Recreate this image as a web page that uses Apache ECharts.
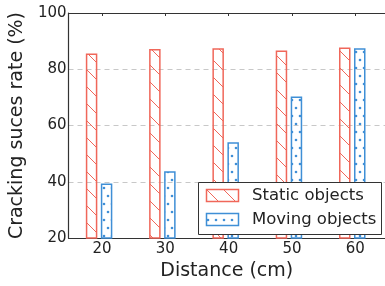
<!DOCTYPE html>
<html>
<head>
<meta charset="utf-8">
<script src="https://cdn.jsdelivr.net/npm/echarts@6/dist/echarts.min.js"></script>
<style>
  html, body { margin: 0; padding: 0; background: #fff; }
  #chart { width: 385px; height: 286px; }
</style>
</head>
<body>
<div id="chart"></div>
<script>
// data
var distances = [20, 30, 40, 50, 60];
var staticRate = [85.3, 86.9, 87.2, 86.4, 87.5];
var movingRate = [39.1, 43.5, 53.8, 70.1, 87.2];
var yTicks = [20, 40, 60, 80, 100];
var seriesNames = ['Static objects', 'Moving objects'];

var RED = '#f0675a';
var BLUE = '#3f8fd6';
var FONT = 'DejaVu Sans';
var barW = 10; // px, without stroke

// hatch tile  "\\"
function hatchPattern(color) {
  var s = 17;
  var c = document.createElement('canvas');
  c.width = s; c.height = s;
  var g = c.getContext('2d');
  g.strokeStyle = color;
  g.lineWidth = 1;
  g.beginPath();
  g.moveTo(-2, -2); g.lineTo(s + 2, s + 2);
  g.moveTo(-2, s - 2); g.lineTo(2, s + 2);
  g.moveTo(s - 2, -2); g.lineTo(s + 2, 2);
  g.stroke();
  return { image: c, repeat: 'repeat' };
}

// dot tile
function dotPattern(color) {
  var c = document.createElement('canvas');
  c.width = 16; c.height = 16;
  var g = c.getContext('2d');
  g.fillStyle = color;
  [[4, 4], [12, 4], [8, 12], [0, 12], [16, 12]].forEach(function (p) {
    g.beginPath(); g.arc(p[0], p[1], 1.3, 0, Math.PI * 2); g.fill();
  });
  return { image: c, repeat: 'repeat' };
}

var hatch = hatchPattern(RED);
var dots = dotPattern(BLUE);

function barRenderer(offset, fill, stroke) {
  return function (params, api) {
    var base = api.coord([api.value(0), 20]);
    var top = api.coord([api.value(0), api.value(1)]);
    return {
      type: 'rect',
      shape: { x: base[0] + offset, y: top[1], width: barW, height: base[1] - top[1] },
      style: { fill: fill, stroke: stroke, lineWidth: 1.5 }
    };
  };
}

var chart = echarts.init(document.getElementById('chart'));

var option = {
  animation: false,
  grid: { left: 62, top: 13, width: 327.5, height: 230 },
  xAxis: [{
    type: 'value',
    min: 14.7,
    max: 64.7,
    name: 'Distance (cm)',
    nameLocation: 'middle',
    nameGap: 22,
    nameTextStyle: { fontFamily: FONT, fontSize: 19, color: '#222' },
    axisLine: { show: true, lineStyle: { color: '#333', width: 1.2 } },
    axisTick: { show: false },
    axisLabel: { customValues: distances, fontFamily: FONT, fontSize: 15, color: '#222', margin: 4 },
    splitLine: { show: false }
  }, {
    type: 'value',
    position: 'top',
    min: 14.7,
    max: 64.7,
    axisLine: { show: true, lineStyle: { color: '#333', width: 1.2 } },
    axisTick: { show: true, inside: true, length: 3, customValues: distances, lineStyle: { color: '#333' } },
    axisLabel: { show: false },
    splitLine: { show: false }
  }],
  yAxis: {
    type: 'value',
    min: 20,
    max: 100,
    interval: 20,
    name: 'Cracking suces rate (%)',
    nameLocation: 'middle',
    nameGap: 24,
    nameTextStyle: { fontFamily: FONT, fontSize: 19, color: '#222' },
    axisLine: { show: true, lineStyle: { color: '#333', width: 1.2 } },
    axisTick: { show: false },
    axisLabel: { customValues: yTicks, fontFamily: FONT, fontSize: 15, color: '#222', margin: 2 },
    splitLine: { show: true, lineStyle: { color: '#c8c8c8', type: [5, 4], width: 1 } }
  },
  series: [{
    name: seriesNames[0],
    type: 'custom',
    renderItem: barRenderer(-15.5, hatch, RED),
    data: distances.map(function (d, i) { return [d, staticRate[i]]; }),
    z: 3
  }, {
    name: seriesNames[1],
    type: 'custom',
    renderItem: barRenderer(-0.5, dots, BLUE),
    data: distances.map(function (d, i) { return [d, movingRate[i]]; }),
    z: 3
  }],
  graphic: [
    { type: 'rect', z: 100, shape: { x: 198.5, y: 182.5, width: 183, height: 52 }, style: { fill: '#fff', stroke: '#333', lineWidth: 1 } },
    { type: 'rect', z: 101, shape: { x: 206.5, y: 189.5, width: 32, height: 12 }, style: { fill: hatch, stroke: RED, lineWidth: 1.5 } },
    { type: 'text', z: 101, x: 252, y: 196, style: { text: seriesNames[0], font: '16.5px ' + FONT, fill: '#222', verticalAlign: 'middle' } },
    { type: 'rect', z: 101, shape: { x: 206.5, y: 213.5, width: 32, height: 12 }, style: { fill: dots, stroke: BLUE, lineWidth: 1.5 } },
    { type: 'text', z: 101, x: 252, y: 220, style: { text: seriesNames[1], font: '16.5px ' + FONT, fill: '#222', verticalAlign: 'middle' } }
  ]
};

chart.setOption(option);
</script>
</body>
</html>
